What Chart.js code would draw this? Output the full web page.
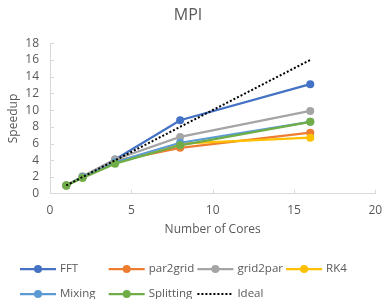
<!DOCTYPE html>
<html lang="en">
<head>
    <meta charset="UTF-8">
    <title>MPI</title>
    <style>
        html, body { margin: 0; padding: 0; background: #fff; }
        #wrap { width: 384px; height: 299px; }
    </style>
</head>
<body>
    <div id="wrap"><canvas id="grafico"></canvas></div>
<script src="https://cdn.jsdelivr.net/npm/chart.js"></script>
<script>
    const cores = [1, 2, 4, 8, 16];
    const fft = [1, 2.0, 4.1, 8.8, 13.1];
    const par2grid = [1, 2.0, 3.9, 5.5, 7.3];
    const grid2par = [1, 2.1, 4.1, 6.8, 9.9];
    const rk4 = [1, 2.0, 3.8, 6.0, 6.7];
    const mixing = [1, 2.0, 3.8, 6.1, 8.6];
    const splitting = [1, 1.9, 3.6, 5.8, 8.6];
    const ideal = [1, 2, 4, 8, 16];

    const nomes = ['FFT', 'par2grid', 'grid2par', 'RK4', 'Mixing', 'Splitting', 'Ideal'];
    const cores_linhas = ['#4472C4', '#ED7D31', '#A5A5A5', '#FFC000', '#5B9BD5', '#70AD47', '#000000'];
    const series = [fft, par2grid, grid2par, rk4, mixing, splitting, ideal];

    const texto = '#595959';
    const eixo = '#d9d9d9';
    const fonte = "'Open Sans', sans-serif";

    let datasets = [];
    for (let i = 0; i < series.length; i++) {
        let ehIdeal = nomes[i] == 'Ideal';
        datasets.push({
            label: nomes[i],
            data: series[i].map((v, j) => ({ x: cores[j], y: v })),
            borderColor: cores_linhas[i],
            backgroundColor: cores_linhas[i],
            borderWidth: ehIdeal ? 2 : 2.25,
            borderDash: ehIdeal ? [2, 2] : [],
            pointRadius: ehIdeal ? 0 : 4,
            pointHoverRadius: ehIdeal ? 0 : 4,
            pointBorderWidth: 0,
            order: series.length - i
        });
    }

    // marcas dos eixos para dentro (estilo Excel)
    const marcasDentro = {
        id: 'marcasDentro',
        beforeDatasetsDraw(chart) {
            const ctx = chart.ctx;
            const sx = chart.scales.x, sy = chart.scales.y;
            const area = chart.chartArea;
            ctx.save();
            ctx.strokeStyle = eixo;
            ctx.lineWidth = 1;
            ctx.beginPath();
            sx.ticks.forEach(t => {
                if (t.value == sx.min) return;
                let px = Math.round(sx.getPixelForValue(t.value)) + 0.5;
                ctx.moveTo(px, area.bottom);
                ctx.lineTo(px, area.bottom - 4);
            });
            sy.ticks.forEach(t => {
                if (t.value == sy.min) return;
                let py = Math.round(sy.getPixelForValue(t.value)) + 0.5;
                ctx.moveTo(area.left, py);
                ctx.lineTo(area.left + 4, py);
            });
            ctx.stroke();
            ctx.restore();
        }
    };

    // legenda em duas linhas, com colunas fixas (linha + marcador)
    const legendaExcel = {
        id: 'legendaExcel',
        afterDraw(chart) {
            const ctx = chart.ctx;
            const col0 = 20, passo = 88.7, largura = 36;
            const linhasY = [269, 294];
            ctx.save();
            ctx.font = "11.5px " + fonte;
            ctx.textBaseline = 'middle';
            chart.data.datasets.forEach((ds, i) => {
                let x = col0 + (i % 4) * passo;
                let y = linhasY[Math.floor(i / 4)];
                ctx.strokeStyle = ds.borderColor;
                ctx.lineWidth = ds.borderWidth;
                ctx.setLineDash(ds.borderDash);
                ctx.beginPath();
                ctx.moveTo(x, y);
                ctx.lineTo(x + largura, y);
                ctx.stroke();
                ctx.setLineDash([]);
                if (ds.pointRadius > 0) {
                    ctx.fillStyle = ds.backgroundColor;
                    ctx.beginPath();
                    ctx.arc(x + largura / 2, y, 4, 0, Math.PI * 2);
                    ctx.fill();
                }
                ctx.fillStyle = texto;
                ctx.fillText(ds.label, x + largura + 4, y);
            });
            ctx.restore();
        }
    };

    new Chart(document.getElementById('grafico'), {
        type: 'line',
        data: { datasets: datasets },
        options: {
            responsive: true,
            maintainAspectRatio: false,
            animation: false,
            layout: { padding: { left: 0, right: 8, top: 0, bottom: 62 } },
            plugins: {
                legend: { display: false },
                tooltip: { enabled: false },
                title: {
                    display: true,
                    text: 'MPI',
                    color: texto,
                    font: { family: fonte, size: 16, weight: 'normal' },
                    padding: { top: 6, bottom: 18 }
                }
            },
            scales: {
                x: {
                    type: 'linear',
                    min: 0,
                    max: 20,
                    grid: { display: false, tickLength: 8 },
                    border: { display: true, color: eixo, width: 1 },
                    ticks: { stepSize: 5, autoSkip: false, maxRotation: 0, color: texto, font: { family: fonte, size: 12 }, padding: 1.8 },
                    title: {
                        display: true,
                        text: 'Number of Cores',
                        color: texto,
                        font: { family: fonte, size: 12 },
                        padding: { top: 2.8, bottom: 0 }
                    }
                },
                y: {
                    min: 0,
                    max: 18,
                    grid: { display: false, tickLength: 8 },
                    border: { display: true, color: eixo, width: 1 },
                    ticks: { stepSize: 2, autoSkip: false, color: texto, font: { family: fonte, size: 12 }, padding: 3 },
                    title: {
                        display: true,
                        text: 'Speedup',
                        color: texto,
                        font: { family: fonte, size: 12 },
                        padding: { top: 6.3, bottom: 1.6 }
                    }
                }
            }
        },
        plugins: [marcasDentro, legendaExcel]
    });
</script>
</body>
</html>
